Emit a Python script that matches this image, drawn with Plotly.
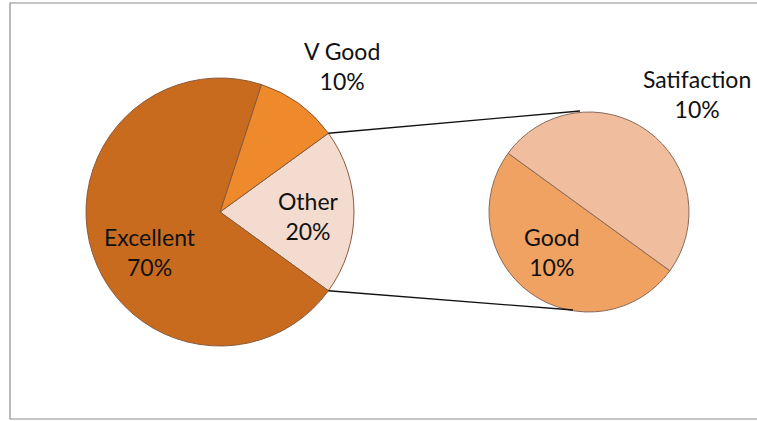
import numpy as np
import plotly.graph_objects as go

# main pie
main_labels = ["Other", "V Good", "Excellent"]
main_values = [20, 10, 70]
main_colors = ["#F3DCCF", "#EE8A2C", "#C86B1F"]

# breakout pie (splits "Other")
sub_labels = ["Good", "Satifaction"]
sub_values = [10, 10]
sub_colors = ["#F0A262", "#F0BE9E"]

W, H = 757, 421
font = dict(family="Lato, 'Open Sans', sans-serif", size=23, color="#111111")

# pie geometry in px (center x, center y from top, radius)
mc = (220, 212, 134)
sc = (589, 212, 100)
main_start = -36.0   # math angle where first slice starts (ccw)
sub_start = 144.0


def domain(c):
    cx, cy, r = c
    return dict(x=[(cx - r) / W, (cx + r) / W], y=[(H - cy - r) / H, (H - cy + r) / H])


def rot(start, vals):
    # plotly ccw: first slice lies clockwise of `rotation` (measured cw from 12 o'clock)
    end = start + vals[0] / sum(vals) * 360.0
    return 90.0 - end


fig = go.Figure()
fig.add_trace(go.Pie(
    labels=main_labels, values=main_values, sort=False,
    direction="counterclockwise", rotation=rot(main_start, main_values),
    marker=dict(colors=main_colors, line=dict(color="#8a5a3a", width=1)),
    textinfo="none", hoverinfo="label+percent", domain=domain(mc),
    showlegend=False,
))
fig.add_trace(go.Pie(
    labels=sub_labels, values=sub_values, sort=False,
    direction="counterclockwise", rotation=rot(sub_start, sub_values),
    marker=dict(colors=sub_colors, line=dict(color="#8a6a5a", width=1)),
    textinfo="none", hoverinfo="label+percent", domain=domain(sc),
    showlegend=False,
))

# connector lines from the "Other" slice edge to the breakout pie
total = sum(main_values)
half = main_values[0] / total * 180.0
shapes = []
for sgn, tgt in [(1, (580, 111)), (-1, (573, 310))]:
    a = np.radians(half * sgn)
    x0 = mc[0] + mc[2] * np.cos(a)
    y0 = mc[1] - mc[2] * np.sin(a)
    shapes.append(dict(type="line", xref="paper", yref="paper",
                       x0=x0 / W, y0=1 - y0 / H, x1=tgt[0] / W, y1=1 - tgt[1] / H,
                       line=dict(color="#111111", width=1.3)))
# chart border (right edge runs off the picture)
shapes.append(dict(type="rect", xref="paper", yref="paper",
                   x0=10 / W, y0=1 - 419 / H, x1=1.05, y1=1 - 3 / H,
                   line=dict(color="#8c8c8c", width=1.2)))

pos = {"Excellent": (150, 252), "V Good": (342, 66), "Other": (308, 216),
       "Good": (552, 252), "Satifaction": (697, 94)}
annotations = []
for labs, vals in [(main_labels, main_values), (sub_labels, sub_values)]:
    for lab, v in zip(labs, vals):
        pct = v / total * 100
        x, y = pos[lab]
        annotations.append(dict(x=x / W, y=1 - y / H, xref="paper", yref="paper",
                                xanchor="center", yanchor="middle",
                                text=f"{lab}<br>{pct:.0f}%", showarrow=False,
                                font=font, align="center"))

fig.update_layout(
    width=W, height=H, margin=dict(l=0, r=0, t=0, b=0),
    paper_bgcolor="white", plot_bgcolor="white",
    shapes=shapes, annotations=annotations,
)
fig.write_html("out.html", config={"displayModeBar": False},
               post_script="document.body.style.margin='0';")
